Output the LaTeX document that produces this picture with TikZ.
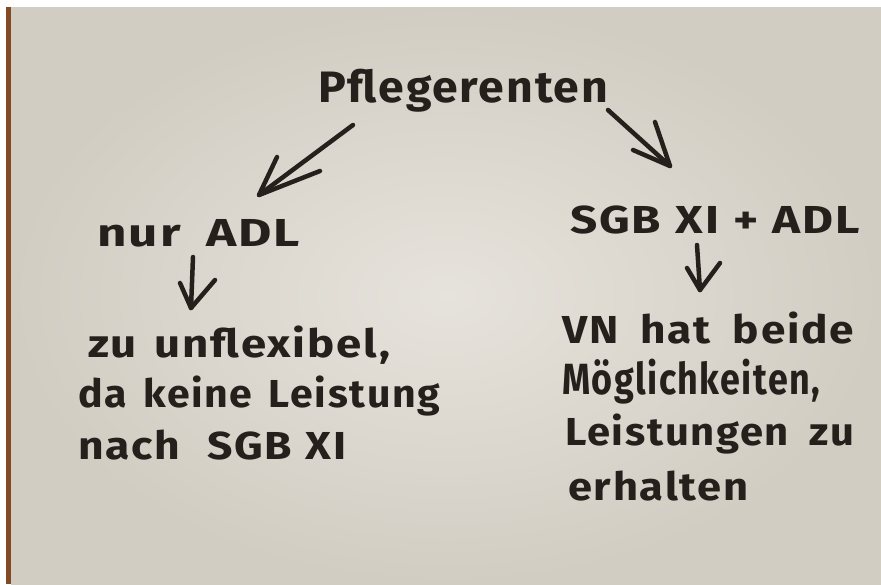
\documentclass[tikz,border=0pt]{standalone}
\usepackage{fontspec}
\usepackage{graphicx}
\setmainfont{Fira Sans}[LetterSpace=4]
\definecolor{cardin}{RGB}{230,227,220}
\definecolor{cardout}{RGB}{210,205,195}
\definecolor{cardedge}{RGB}{130,75,38}
\definecolor{ink}{RGB}{38,32,28}
\newcommand\fitw[2]{\resizebox{#1pt}{\height}{#2}}
\tikzset{
  hand/.style={anchor=base west, inner sep=0pt, text=ink, font=\fontsize{39}{44}\selectfont\bfseries},
  big/.style={hand, font=\fontsize{44}{50}\selectfont\bfseries},
  marker/.style={draw=ink, line width=4.5pt, line cap=round, line join=round}
}
\begin{document}
\begin{tikzpicture}[x=1pt,y=-1pt]
\useasboundingbox (0,0) rectangle (881,584);
\fill[white] (0,0) rectangle (881,584);
\fill[cardedge] (6,7) rectangle (13,584);
\shade[inner color=cardin, outer color=cardout] (11,7) rectangle (881,584);

% texts
\node[big] (pfl) at (318,102) {\fitw{290}{Pflegerenten}};
\node[hand] (nur) at (97,246) {\fitw{203}{nur\hspace{0.5em}ADL}};
\node[hand] (l1) at (88,357) {\fitw{302}{zu\hspace{0.4em}unflexibel,}};
\node[hand] (l2) at (78,407) {\fitw{362}{da\hspace{0.4em}keine\hspace{0.4em}Leistung}};
\node[hand] (l3) at (78,459) {\fitw{268}{nach\hspace{0.6em}SGB\hspace{0.3em}XI}};
\node[hand] (sgb) at (570,233) {\fitw{290}{SGB\hspace{0.3em}XI\hspace{0.3em}+\hspace{0.3em}ADL}};
\node[hand] (r1) at (562,343) {\fitw{292}{VN\hspace{0.5em}hat\hspace{0.5em}beide}};
\node[hand] (r2) at (562,394) {\resizebox{258pt}{1.12\height}{Möglichkeiten,}};
\node[hand] (r3) at (565,445) {\fitw{289}{Leistungen\hspace{0.5em}zu}};
\node[hand] (r4) at (568,500) {\fitw{180}{erhalten}};

% arrow coordinates
\coordinate (a1s) at (353,125); \coordinate (a1e) at (259,195);
\coordinate (a1u) at (277,157); \coordinate (a1l) at (320,171);
\coordinate (a2s) at (608,110); \coordinate (a2e) at (670,166);
\coordinate (a2u) at (655,122); \coordinate (a2l) at (633,150);
\coordinate (a3s) at (193,257); \coordinate (a3e) at (191,308);
\coordinate (a3u) at (180,283); \coordinate (a3l) at (215,280);
\coordinate (a4s) at (697,245); \coordinate (a4e) at (700,290);
\coordinate (a4u) at (687,268); \coordinate (a4l) at (720,263);

\draw[marker] (a1s) -- (a1e);
\draw[marker] (a1u) -- (a1e) -- (a1l);
\draw[marker] (a2s) -- (a2e);
\draw[marker] (a2u) -- (a2e) -- (a2l);
\draw[marker] (a3s) -- (a3e);
\draw[marker] (a3u) -- (a3e) -- (a3l);
\draw[marker] (a4s) -- (a4e);
\draw[marker] (a4u) -- (a4e) -- (a4l);
\end{tikzpicture}
\end{document}
